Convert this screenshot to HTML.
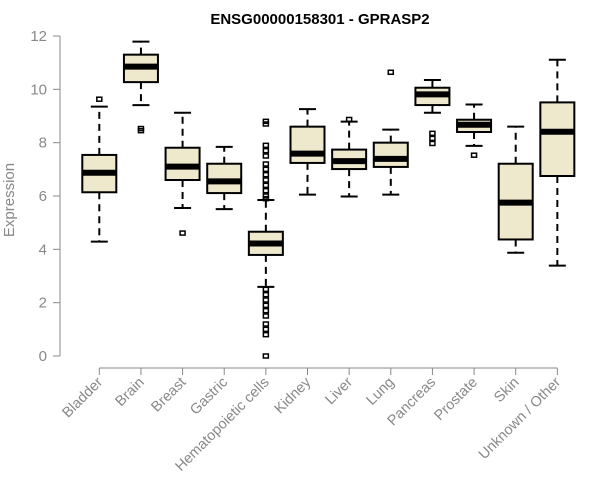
<!DOCTYPE html>
<html><head><meta charset="utf-8"><style>
body{margin:0;background:#fff;}
svg{display:block;font-family:"Liberation Sans",sans-serif;}
</style></head><body>
<svg id="c" width="600" height="500"></svg>
<script>
const categories=["Bladder","Brain","Breast","Gastric","Hematopoietic cells","Kidney","Liver","Lung","Pancreas","Prostate","Skin","Unknown / Other"];
const q1=[6.14,10.27,6.6,6.11,3.79,7.24,7.01,7.09,9.41,8.4,4.37,6.75];
const med=[6.87,10.85,7.1,6.55,4.22,7.59,7.31,7.39,9.81,8.67,5.75,8.41];
const q3=[7.54,11.3,7.81,7.21,4.66,8.6,7.74,8.0,10.06,8.86,7.21,9.51];
const wlo=[4.29,9.41,5.55,5.51,2.59,6.05,5.98,6.05,9.12,7.88,3.87,3.39];
const whi=[9.35,11.79,9.12,7.84,5.85,9.26,8.79,8.49,10.35,9.43,8.6,11.11];
const outliers=[[9.63],[8.53,8.45],[4.61],[],[5.9,6.0,6.2,6.4,6.6,6.8,7.0,7.2,7.5,7.7,7.9,8.7,8.8,2.5,2.3,2.1,1.9,1.7,1.5,1.2,1.0,0.8,0],[],[8.87],[10.64],[8.35,8.16,7.97],[7.53],[],[]];
const yTicks=[0,2,4,6,8,10,12];
const NS="http://www.w3.org/2000/svg",svg=document.getElementById('c');
const y=v=>356-v*26.667, x=i=>99.3+i*41.64;
function el(t,a,p){const e=document.createElementNS(NS,t);for(const k in a)e.setAttribute(k,a[k]);(p||svg).appendChild(e);return e;}
let t=el('text',{x:320,y:24,'text-anchor':'middle','font-size':15,'font-weight':'bold',fill:'#000'});t.textContent="ENSG00000158301 - GPRASP2";


let yl=el('text',{x:0,y:0,transform:'translate(14,200) rotate(-90)','text-anchor':'middle','font-size':15,fill:'#888'});yl.textContent="Expression";


const ya=el('g',{});


el('line',{x1:60,x2:60,y1:y(0),y2:y(12),stroke:'#888'},ya);
yTicks.forEach(v=>{el('line',{x1:53,x2:60,y1:y(v),y2:y(v),stroke:'#888'},ya);
 const tt=el('text',{x:47,y:y(v)+5,'text-anchor':'end','font-size':15,fill:'#888'},ya);tt.textContent=v;
 
 });
const xa=el('g',{});


el('line',{x1:x(0),x2:x(11),y1:368,y2:368,stroke:'#888'},xa);
categories.forEach((c,i)=>{el('line',{x1:x(i),x2:x(i),y1:368,y2:375,stroke:'#888'},xa);
 const tt=el('text',{x:0,y:0,transform:`translate(${x(i)+4},${383}) rotate(-45)`,'text-anchor':'end','font-size':14.5,fill:'#888'},xa);tt.textContent=c;
 
 });
categories.forEach((c,i)=>{const g=el('g',{});
 
 
 const cx=x(i),w=17,cw=8.5;
 el('line',{x1:cx,x2:cx,y1:y(q3[i]),y2:y(whi[i]),stroke:'#000','stroke-width':2,'stroke-dasharray':'7,5'},g);
 el('line',{x1:cx,x2:cx,y1:y(q1[i]),y2:y(wlo[i]),stroke:'#000','stroke-width':2,'stroke-dasharray':'7,5'},g);
 el('line',{x1:cx-cw,x2:cx+cw,y1:y(whi[i]),y2:y(whi[i]),stroke:'#000','stroke-width':2},g);
 el('line',{x1:cx-cw,x2:cx+cw,y1:y(wlo[i]),y2:y(wlo[i]),stroke:'#000','stroke-width':2},g);
 el('rect',{x:cx-w,y:y(q3[i]),width:2*w,height:y(q1[i])-y(q3[i]),fill:'#EEE8CD',stroke:'#000','stroke-width':2},g);
 el('line',{x1:cx-w,x2:cx+w,y1:y(med[i]),y2:y(med[i]),stroke:'#000','stroke-width':6},g);
 outliers[i].forEach(o=>el('rect',{x:cx-2.5,y:y(o)-2,width:5,height:4,fill:'none',stroke:'#000','stroke-width':1.5},g));
});
</script>
</body></html>
